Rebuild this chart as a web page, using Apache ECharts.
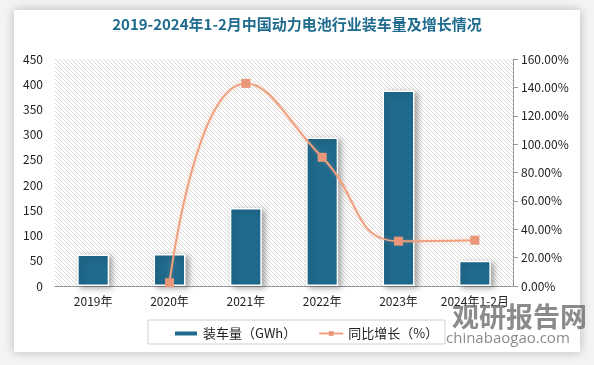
<!DOCTYPE html>
<html>
<head>
<meta charset="utf-8">
<script src="https://cdn.jsdelivr.net/npm/echarts@6/dist/echarts.min.js"></script>
<style>
html,body{margin:0;padding:0;background:#f2f2f2;}
#c{width:594px;height:365px;}
</style>
</head>
<body>
<div id="c"></div>
<script>
var categories = ['2019年','2020年','2021年','2022年','2023年','2024年1-2月'];
var installed = [62.2, 63.6, 154.5, 294.6, 387.7, 49.9];
var growth = [null, 2.3, 142.8, 90.7, 31.6, 32.3];
var leftTicks = {min:0, max:450, interval:50};
var rightTicks = {min:0, max:160, interval:20};

var pc = document.createElement('canvas');
pc.width = 4; pc.height = 4;
var ctx = pc.getContext('2d');
ctx.fillStyle = '#ffffff'; ctx.fillRect(0,0,4,4);
ctx.strokeStyle = '#dadada'; ctx.lineWidth = 1;
ctx.beginPath();
ctx.moveTo(-1,-1); ctx.lineTo(5,5);
ctx.moveTo(-1,3); ctx.lineTo(1,5);
ctx.moveTo(3,-1); ctx.lineTo(5,1);
ctx.stroke();

var chart = echarts.init(document.getElementById('c'), null, {renderer:'canvas'});
var font = '"Noto Sans CJK SC", "Open Sans", sans-serif';
chart.setOption({
  animation:false,
  backgroundColor:'#f4f4f4',
  graphic:[
    {type:'rect', shape:{x:14,y:10,width:566,height:342}, style:{fill:'#ffffff', shadowBlur:10, shadowColor:'rgba(0,0,0,0.25)'}, z:-10},
    {type:'rect', shape:{x:148,y:320,width:297,height:24}, style:{fill:'none', stroke:'#d0d0d0', lineWidth:1}, z:1},
    {type:'text', left:452, top:303, style:{text:'观研报告网', fill:'rgba(110,110,110,0.8)', font:'bold 27px "Noto Sans CJK SC"'}, z:5},
    {type:'text', left:446, top:331, style:{text:'chinabaogao.com', fill:'rgba(110,110,110,0.8)', font:'15px "Open Sans"'}, z:5}
  ],
  title:{
    text:'2019-2024年1-2月中国动力电池行业装车量及增长情况',
    left:'center', top:12,
    textStyle:{color:'#1f6b8e', fontSize:15, fontWeight:'bold', fontFamily:font}
  },
  legend:{
    left:168, top:322, itemGap:22, itemWidth:24, itemHeight:6,
    textStyle:{fontSize:13, color:'#222', fontFamily:font},
    data:[
      {name:'装车量（GWh）', icon:'rect'},
      {name:'同比增长（%）'}
    ]
  },
  grid:{left:55, right:81, top:59, bottom:79, show:true, borderWidth:0,
    backgroundColor:{image:pc, repeat:'repeat'}},
  xAxis:{
    type:'category', data:categories,
    axisLine:{lineStyle:{color:'#999'}},
    axisTick:{show:false},
    axisLabel:{color:'#222', fontSize:12, fontFamily:font, margin:9, interval:0}
  },
  yAxis:[
    {type:'value', min:leftTicks.min, max:leftTicks.max, interval:leftTicks.interval,
      splitLine:{show:false}, axisLine:{show:false}, axisTick:{show:false},
      axisLabel:{color:'#222', fontSize:12, fontFamily:font, margin:12}},
    {type:'value', min:rightTicks.min, max:rightTicks.max, interval:rightTicks.interval,
      position:'right', splitLine:{show:false},
      axisLine:{show:true, lineStyle:{color:'#999'}},
      axisTick:{show:true, length:5, lineStyle:{color:'#999'}},
      axisLabel:{color:'#222', fontSize:12, fontFamily:font, margin:8,
        formatter:function(v){return v.toFixed(2)+'%';}}}
  ],
  series:[
    {name:'装车量（GWh）', type:'bar', data:installed, barWidth:32, yAxisIndex:0,
      itemStyle:{color:'#1f6b8e', borderColor:'#ffffff', borderWidth:1.5,
        shadowBlur:6, shadowColor:'rgba(0,0,0,0.35)', shadowOffsetX:3, shadowOffsetY:2}},
    {name:'同比增长（%）', type:'line', data:growth, yAxisIndex:1, smooth:0.5,
      symbol:'rect', symbolSize:9, connectNulls:false,
      lineStyle:{color:'#f0a07e', width:2, shadowBlur:4, shadowColor:'rgba(240,160,126,0.4)'},
      itemStyle:{color:'#e9967a'}}
  ]
});
</script>
</body>
</html>
